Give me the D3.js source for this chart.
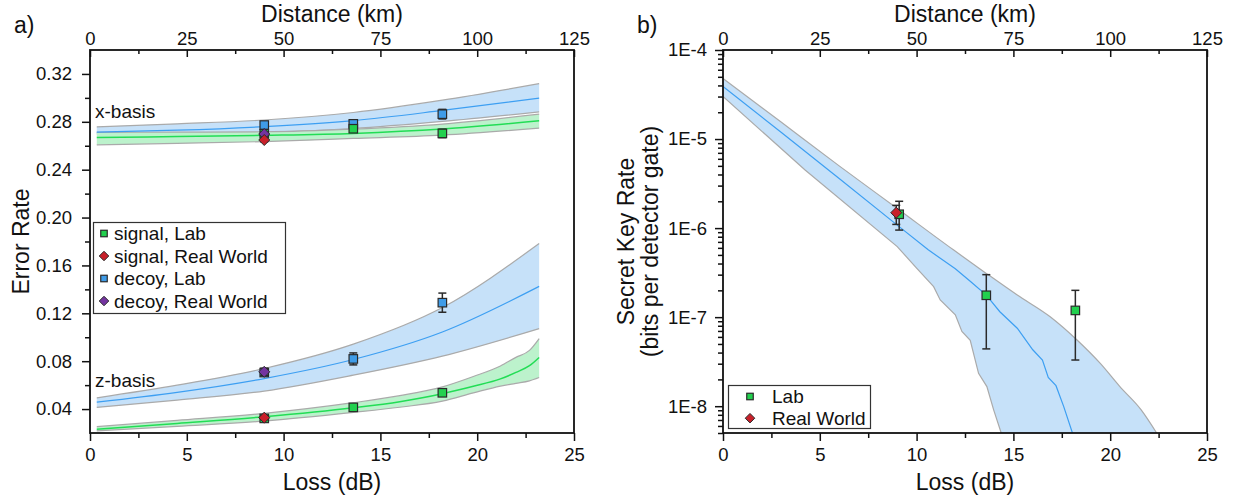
<!DOCTYPE html>
<html>
<head>
<meta charset="utf-8">
<script src="https://cdn.jsdelivr.net/npm/d3@7"></script>
<style>
  body { margin: 0; background: #fff; }
  svg { font-family: "Liberation Sans", Arial, Helvetica, sans-serif; }
</style>
</head>
<body>
<svg id="chart" width="1237" height="500"></svg>
<script>
// ---------- Panel a: error rates ----------
// theory bands (loss in dB)
const aLoss       = [0.35, 4.5, 9.0, 13.6, 18.2, 23.2];
const xDecoyMid   = [0.2714, 0.2730, 0.2760, 0.2810, 0.2895, 0.2998];
const xDecoyHi    = [0.2758, 0.2783, 0.2815, 0.2878, 0.2981, 0.3119];
const xDecoyLo    = [0.2700, 0.2703, 0.2712, 0.2744, 0.2803, 0.2883];
const xSignalMid  = [0.2669, 0.2677, 0.2687, 0.2703, 0.2739, 0.2808];
const xSignalHi   = [0.2712, 0.2714, 0.2717, 0.2739, 0.2781, 0.2864];
const xSignalLo   = [0.2608, 0.2620, 0.2635, 0.2661, 0.2689, 0.2748];
const zDecoyMid   = [0.0458, 0.0540, 0.0655, 0.0814, 0.1044, 0.1425];
const zDecoyHi    = [0.0494, 0.0600, 0.0739, 0.0942, 0.1248, 0.1783];
const zDecoyLo    = [0.0414, 0.0475, 0.0550, 0.0683, 0.0842, 0.1072];
const zSigLoss    = [0.35, 4.5, 9.0, 13.6, 16.0, 18.2, 19.8, 21.2, 22.0, 22.7, 23.2];
const zSignalMid  = [0.0231, 0.0280, 0.0336, 0.0411, 0.0462, 0.0528, 0.0590, 0.0652, 0.0706, 0.0762, 0.0831];
const zSignalHi   = [0.0253, 0.0305, 0.0364, 0.0453, 0.0512, 0.0585, 0.0672, 0.0760, 0.0832, 0.0890, 0.0989];
const zSignalLo   = [0.0217, 0.0256, 0.0300, 0.0372, 0.0415, 0.0466, 0.0535, 0.0592, 0.0615, 0.0636, 0.0664];

// measurements
const labLoss       = [9.0, 13.6, 18.2];
const xSignalLab    = [0.2700, 0.2742, 0.2703];
const xSignalLabErr = [0.0015, 0.0015, 0.0035];
const xDecoyLab     = [0.2773, 0.2783, 0.2864];
const xDecoyLabErr  = [0.0015, 0.0015, 0.0040];
const zSignalLab    = [0.0322, 0.0414, 0.0536];
const zSignalLabErr = [0.0012, 0.0012, 0.0015];
const zDecoyLab     = [0.0705, 0.0819, 0.1289];
const zDecoyLabErr  = [0.0030, 0.0050, 0.0080];
const rwLoss        = [9.0];
const xSignalRW     = [0.2648];
const xDecoyRW      = [0.2698];
const zSignalRW     = [0.0328];
const zDecoyRW      = [0.0711];
const rwErr         = [0.0015];
const zDecoyRWErr   = [0.0030];

const aLossTicks = [0, 5, 10, 15, 20, 25];
const distTicks = [0, 25, 50, 75, 100, 125];
const errTicks = [0.04, 0.08, 0.12, 0.16, 0.20, 0.24, 0.28, 0.32];
const legendA = ["signal, Lab", "signal, Real World", "decoy, Lab", "decoy, Real World"];

// ---------- Panel b: secret key rate ----------
const keyMidLoss = [0, 3, 6, 9, 10.6, 12.0, 12.8, 13.6, 14.3, 15.2, 16.0, 16.5, 16.8, 17.2, 17.6, 18.05];
const keyMid     = [3.9e-5, 1.19e-5, 3.6e-6, 1.08e-6, 5.7e-7, 3.5e-7, 2.5e-7, 1.77e-7, 1.15e-7, 7.5e-8, 4.3e-8, 3.3e-8, 2.1e-8, 1.7e-8, 9.9e-9, 5e-9];
const keyHiLoss  = [0, 3, 6, 9, 11.9, 13.6, 15.2, 16.9, 18.3, 19.5, 20.5, 21.6, 22.4];
const keyHi      = [4.8e-5, 1.55e-5, 5.0e-6, 1.66e-6, 5.7e-7, 3.1e-7, 1.77e-7, 1.01e-7, 5.5e-8, 3.0e-8, 1.66e-8, 9.1e-9, 5e-9];
const keyLoLoss  = [0, 4.24, 9.0, 10.0, 10.88, 11.22, 12.0, 12.34, 12.77, 13.2, 13.63, 13.98, 14.37];
const keyLo      = [3.0e-5, 4.5e-6, 6.2e-7, 3.55e-7, 2.2e-7, 1.56e-7, 1.06e-7, 6.9e-8, 5.5e-8, 2.34e-8, 1.66e-8, 9.1e-9, 5e-9];

const keyLabLoss = [9.1, 13.6, 18.2];
const keyLab     = [1.43e-6, 1.76e-7, 1.19e-7];
const keyLabLo   = [9.5e-7, 4.4e-8, 3.3e-8];
const keyLabHi   = [2.0e-6, 3.0e-7, 2.0e-7];
const keyRWLoss  = [8.95];
const keyRW      = [1.49e-6];
const keyRWLo    = [1.1e-6];
const keyRWHi    = [1.8e-6];

const keyTicks = [1e-4, 1e-5, 1e-6, 1e-7, 1e-8];
const legendB = ["Lab", "Real World"];

// ---------- styling ----------
const C = {
  green: "#22d04e", blue: "#3f9ce8", red: "#c8202a", purple: "#7434a0",
  blueBand: "#c6e1f9", greenBand: "#bcf2cc", edge: "#aaaaaa",
  blueLine: "#3d9ff2", greenLine: "#22dd55", ink: "#111", mark: "#2a2a2a"
};
const FS_TICK = 18.5, FS_TEXT = 19, FS_TITLE = 23;

const svg = d3.select("#chart");
const pa = { left: 90, right: 574, top: 50, bottom: 433 };
const pb = { left: 723, right: 1207, top: 50, bottom: 433 };

const xa = d3.scaleLinear().domain([0, 25]).range([pa.left, pa.right]);
const xaTop = d3.scaleLinear().domain([0, 125]).range([pa.left, pa.right]);
const ya = d3.scaleLinear().domain([0.02, 0.34]).range([pa.bottom, pa.top]);
const xb = d3.scaleLinear().domain([0, 25]).range([pb.left, pb.right]);
const xbTop = d3.scaleLinear().domain([0, 125]).range([pb.left, pb.right]);
const yb = d3.scaleLog().domain([5e-9, 1e-4]).range([pb.bottom, pb.top]);

function styleAxis(g) {
  g.select(".domain").remove();
  g.selectAll(".tick line").attr("stroke", C.ink).attr("stroke-width", 1.5);
  g.selectAll(".tick text").attr("fill", C.ink).attr("font-size", FS_TICK)
    .attr("font-family", '"Liberation Sans", Arial, sans-serif');
}

function frameAxes(p, xs, xsTop, ys, yTickVals, yMinor, yFmt, yPad, xMinor, topMinor) {
  const g = svg.append("g");
  // bottom
  g.append("g").attr("transform", `translate(0,${p.bottom})`)
    .call(d3.axisBottom(xs).tickValues(aLossTicks).tickFormat(d3.format("d")).tickSize(8).tickPadding(7).tickSizeOuter(0))
    .call(styleAxis);
  g.append("g").attr("transform", `translate(0,${p.bottom})`)
    .call(d3.axisBottom(xs).tickValues(xMinor).tickFormat("").tickSize(5).tickSizeOuter(0))
    .call(styleAxis);
  // top (distance), ticks pointing inward
  g.append("g").attr("transform", `translate(0,${p.top})`)
    .call(d3.axisTop(xsTop).tickValues(distTicks).tickFormat(d3.format("d")).tickSize(-7).tickPadding(5).tickSizeOuter(0))
    .call(styleAxis);
  g.append("g").attr("transform", `translate(0,${p.top})`)
    .call(d3.axisTop(xsTop).tickValues(topMinor).tickFormat("").tickSize(-4).tickSizeOuter(0))
    .call(styleAxis);
  // left
  g.append("g").attr("transform", `translate(${p.left},0)`)
    .call(d3.axisLeft(ys).tickValues(yTickVals).tickFormat(yFmt).tickSize(8).tickPadding(yPad).tickSizeOuter(0))
    .call(styleAxis);
  g.append("g").attr("transform", `translate(${p.left},0)`)
    .call(d3.axisLeft(ys).tickValues(yMinor).tickFormat("").tickSize(5).tickSizeOuter(0))
    .call(styleAxis);
  // frame
  g.append("rect").attr("x", p.left).attr("y", p.top)
    .attr("width", p.right - p.left).attr("height", p.bottom - p.top)
    .attr("fill", "none").attr("stroke", C.ink).attr("stroke-width", 1.8);
}

function bandLayer(g, xs, ys, loss, lo, mid, hi, fill, lineColor, lineW) {
  const pts = loss.map((l, i) => ({ l, lo: lo[i], mid: mid[i], hi: hi[i] }));
  const area = d3.area().x(d => xs(d.l)).y0(d => ys(d.lo)).y1(d => ys(d.hi)).curve(d3.curveMonotoneX);
  g.append("path").datum(pts).attr("d", area).attr("fill", fill);
  ["lo", "hi"].forEach(k => {
    g.append("path").datum(pts)
      .attr("d", d3.line().x(d => xs(d.l)).y(d => ys(d[k])).curve(d3.curveMonotoneX))
      .attr("fill", "none").attr("stroke", C.edge).attr("stroke-width", 1.2);
  });
  return () => g.append("path").datum(pts)
    .attr("d", d3.line().x(d => xs(d.l)).y(d => ys(d.mid)).curve(d3.curveMonotoneX))
    .attr("fill", "none").attr("stroke", lineColor).attr("stroke-width", lineW);
}

function errBar(g, x, y1, y2) {
  const cap = 4;
  g.append("line").attr("x1", x).attr("x2", x).attr("y1", y1).attr("y2", y2)
    .attr("stroke", C.mark).attr("stroke-width", 1.5);
  [y1, y2].forEach(y => g.append("line").attr("x1", x - cap).attr("x2", x + cap)
    .attr("y1", y).attr("y2", y).attr("stroke", C.mark).attr("stroke-width", 1.5));
}

function square(g, x, y, s, fill) {
  g.append("rect").attr("x", x - s / 2).attr("y", y - s / 2).attr("width", s).attr("height", s)
    .attr("fill", fill).attr("stroke", C.mark).attr("stroke-width", 1.2);
}

function diamond(g, x, y, s, fill) {
  const h = s / 2;
  g.append("path").attr("d", `M${x},${y - h}L${x + h},${y}L${x},${y + h}L${x - h},${y}Z`)
    .attr("fill", fill).attr("stroke", C.mark).attr("stroke-width", 1);
}

// ================= Panel a =================
const gA = svg.append("g");
const drawXDecoyLine = bandLayer(gA, xa, ya, aLoss, xDecoyLo, xDecoyMid, xDecoyHi, C.blueBand, C.blueLine, 1.2);
const drawXSignalLine = bandLayer(gA, xa, ya, aLoss, xSignalLo, xSignalMid, xSignalHi, C.greenBand, C.greenLine, 1.5);
const drawZDecoyLine = bandLayer(gA, xa, ya, aLoss, zDecoyLo, zDecoyMid, zDecoyHi, C.blueBand, C.blueLine, 1.2);
const drawZSignalLine = bandLayer(gA, xa, ya, zSigLoss, zSignalLo, zSignalMid, zSignalHi, C.greenBand, C.greenLine, 1.5);
[drawXDecoyLine, drawXSignalLine, drawZDecoyLine, drawZSignalLine].forEach(f => f());

// lab squares (decoy under signal), then real-world diamonds
[[xDecoyLab, xDecoyLabErr, C.blue], [zDecoyLab, zDecoyLabErr, C.blue],
 [xSignalLab, xSignalLabErr, C.green], [zSignalLab, zSignalLabErr, C.green]].forEach(([vals, errs, col]) => {
  labLoss.forEach((l, i) => {
    errBar(gA, xa(l), ya(vals[i] + errs[i]), ya(vals[i] - errs[i]));
    square(gA, xa(l), ya(vals[i]), 8.5, col);
  });
});
[[xDecoyRW, rwErr, C.purple], [zDecoyRW, zDecoyRWErr, C.purple],
 [xSignalRW, rwErr, C.red], [zSignalRW, rwErr, C.red]].forEach(([vals, errs, col]) => {
  rwLoss.forEach((l, i) => {
    errBar(gA, xa(l), ya(vals[i] + errs[i]), ya(vals[i] - errs[i]));
    diamond(gA, xa(l), ya(vals[i]), 11, col);
  });
});

frameAxes(pa, xa, xaTop, ya, errTicks, d3.range(0.06, 0.335, 0.04), d3.format(".2f"), 10,
  [2.5, 7.5, 12.5, 17.5, 22.5], [12.5, 37.5, 62.5, 87.5, 112.5]);

// basis annotations
gA.append("text").attr("x", 95).attr("y", 118).attr("font-size", FS_TEXT).attr("fill", C.ink).text("x-basis");
gA.append("text").attr("x", 95).attr("y", 387).attr("font-size", FS_TEXT).attr("fill", C.ink).text("z-basis");

// legend a
const legA = svg.append("g");
legA.append("rect").attr("x", 93.5).attr("y", 222.5).attr("width", 192).attr("height", 91)
  .attr("fill", "#fff").attr("stroke", "#333").attr("stroke-width", 1.2);
const legAMarks = [["sq", C.green], ["di", C.red], ["sq", C.blue], ["di", C.purple]];
legendA.forEach((t, i) => {
  const cy = 233.5 + i * 22.5;
  if (legAMarks[i][0] === "sq") square(legA, 104, cy, 6.5, legAMarks[i][1]);
  else diamond(legA, 104, cy, 9.5, legAMarks[i][1]);
  legA.append("text").attr("x", 114).attr("y", cy + 6.5).attr("font-size", FS_TEXT).attr("fill", C.ink).text(t);
});

// titles a
svg.append("text").attr("x", (pa.left + pa.right) / 2).attr("y", 22).attr("text-anchor", "middle")
  .attr("font-size", FS_TITLE).attr("fill", C.ink).text("Distance (km)");
svg.append("text").attr("x", (pa.left + pa.right) / 2).attr("y", 490).attr("text-anchor", "middle")
  .attr("font-size", FS_TITLE).attr("fill", C.ink).text("Loss (dB)");
svg.append("text").attr("transform", `translate(29,${(pa.top + pa.bottom) / 2}) rotate(-90)`)
  .attr("text-anchor", "middle").attr("font-size", FS_TITLE).attr("fill", C.ink).text("Error Rate");
svg.append("text").attr("x", 14).attr("y", 33).attr("font-size", FS_TITLE).attr("fill", C.ink).text("a)");

// ================= Panel b =================
svg.append("defs").append("clipPath").attr("id", "clipB").append("rect")
  .attr("x", pb.left).attr("y", pb.top).attr("width", pb.right - pb.left).attr("height", pb.bottom - pb.top);
const gB = svg.append("g").attr("clip-path", "url(#clipB)");

const hiPts = keyHiLoss.map((l, i) => [xb(l), yb(keyHi[i])]);
const loPts = keyLoLoss.map((l, i) => [xb(l), yb(keyLo[i])]);
const hiPath = d3.line().curve(d3.curveMonotoneX)(hiPts);
const loPathRev = d3.line()(loPts.slice().reverse());
gB.append("path")
  .attr("d", hiPath + "L" + loPathRev.slice(1) + "Z")
  .attr("fill", C.blueBand);
gB.append("path").attr("d", hiPath).attr("fill", "none").attr("stroke", C.edge).attr("stroke-width", 1.2);
gB.append("path").attr("d", d3.line()(loPts)).attr("fill", "none").attr("stroke", C.edge).attr("stroke-width", 1.2);
gB.append("path").attr("d", d3.line()(keyMidLoss.map((l, i) => [xb(l), yb(keyMid[i])])))
  .attr("fill", "none").attr("stroke", C.blueLine).attr("stroke-width", 1.2);

const gBm = svg.append("g");
keyLabLoss.forEach((l, i) => {
  errBar(gBm, xb(l), yb(keyLabHi[i]), yb(keyLabLo[i]));
  square(gBm, xb(l), yb(keyLab[i]), 8.5, C.green);
});
keyRWLoss.forEach((l, i) => {
  errBar(gBm, xb(l), yb(keyRWHi[i]), yb(keyRWLo[i]));
  diamond(gBm, xb(l), yb(keyRW[i]), 11, C.red);
});

const keyMinor = [];
[-9, -8, -7, -6, -5].forEach(e => d3.range(2, 10).forEach(k => {
  const v = k * Math.pow(10, e);
  if (v >= 5e-9 && v < 1e-4) keyMinor.push(v);
}));
frameAxes(pb, xb, xbTop, yb, keyTicks, keyMinor, d => "1E" + Math.round(Math.log10(d)), 8,
  [2.5, 7.5, 12.5, 17.5, 22.5], [12.5, 37.5, 62.5, 87.5, 112.5]);

// legend b
const legB = svg.append("g");
legB.append("rect").attr("x", 728.5).attr("y", 385.5).attr("width", 142).attr("height", 43)
  .attr("fill", "#fff").attr("stroke", "#333").attr("stroke-width", 1.2);
legendB.forEach((t, i) => {
  const cy = 396.5 + i * 21.7;
  if (i === 0) square(legB, 750, cy, 6.5, C.green);
  else diamond(legB, 750, cy, 9.5, C.red);
  legB.append("text").attr("x", 772).attr("y", cy + 6.5).attr("font-size", FS_TEXT).attr("fill", C.ink).text(t);
});

// titles b
svg.append("text").attr("x", (pb.left + pb.right) / 2).attr("y", 22).attr("text-anchor", "middle")
  .attr("font-size", FS_TITLE).attr("fill", C.ink).text("Distance (km)");
svg.append("text").attr("x", (pb.left + pb.right) / 2).attr("y", 490).attr("text-anchor", "middle")
  .attr("font-size", FS_TITLE).attr("fill", C.ink).text("Loss (dB)");
svg.append("text").attr("transform", `translate(634,${(pb.top + pb.bottom) / 2}) rotate(-90)`)
  .attr("text-anchor", "middle").attr("font-size", FS_TITLE).attr("fill", C.ink).text("Secret Key Rate");
svg.append("text").attr("transform", `translate(658,${(pb.top + pb.bottom) / 2}) rotate(-90)`)
  .attr("text-anchor", "middle").attr("font-size", FS_TITLE).attr("fill", C.ink).text("(bits per detector gate)");
svg.append("text").attr("x", 637).attr("y", 33).attr("font-size", FS_TITLE).attr("fill", C.ink).text("b)");
</script>
</body>
</html>
